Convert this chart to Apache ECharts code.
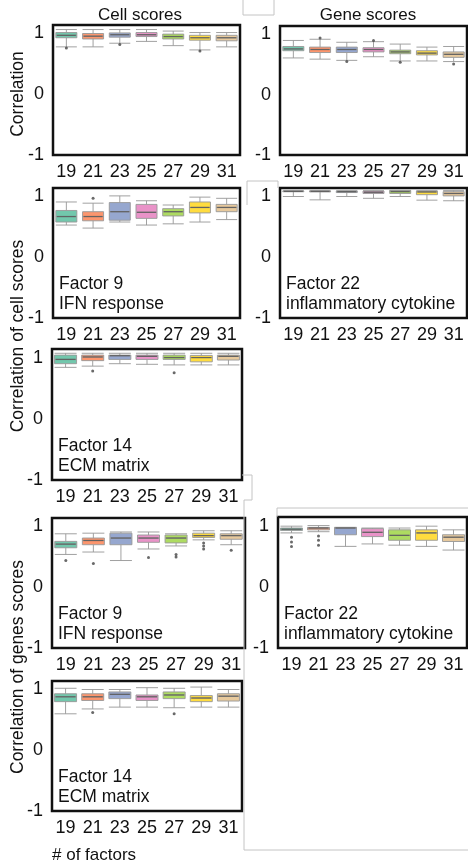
<!DOCTYPE html>
<html><head><meta charset="utf-8">
<script src="https://cdn.jsdelivr.net/npm/echarts@6/dist/echarts.min.js"></script>
<style>html,body{margin:0;padding:0;background:#fff}#c{width:468px;height:865px}</style>
</head><body><div id="c"></div>
<script>
const factors = ['19','21','23','25','27','29','31'];
const yTicks = [-1, 0, 1];
const palette = ['#66c2a5','#fc8d62','#8da0cb','#e78ac3','#a6d854','#ffd92f','#e5c494'];

// [whisker low, Q1, median, Q3, whisker high]
const cellAll = [
 [0.78,0.93,0.97,1.016,1.065],
 [0.78,0.91,0.956,1.0,1.065],
 [0.84,0.94,0.98,1.01,1.065],
 [0.87,0.95,0.98,1.016,1.065],
 [0.80,0.91,0.95,0.99,1.04],
 [0.73,0.89,0.93,0.97,1.016],
 [0.78,0.88,0.93,0.97,1.016]
];
const cellAllOut = [[0,0.76],[2,0.82],[5,0.71]];

const geneAll = [
 [0.61,0.73,0.76,0.80,0.90],
 [0.59,0.70,0.75,0.79,0.92],
 [0.57,0.70,0.75,0.79,0.87],
 [0.63,0.71,0.75,0.78,0.88],
 [0.56,0.68,0.71,0.74,0.84],
 [0.56,0.66,0.69,0.73,0.79],
 [0.55,0.62,0.67,0.71,0.80]
];
const geneAllOut = [[1,0.94],[2,0.55],[3,0.90],[4,0.54],[6,0.51]];

const cellF9 = [
 [0.53,0.58,0.67,0.77,0.91],
 [0.48,0.60,0.67,0.75,0.89],
 [0.58,0.61,0.75,0.90,1.01],
 [0.53,0.64,0.74,0.87,0.93],
 [0.55,0.68,0.75,0.80,0.86],
 [0.58,0.73,0.82,0.91,0.99],
 [0.62,0.75,0.82,0.87,0.97]
];
const cellF9Out = [[1,0.97]];

const cellF22 = [
 [1.00,1.078,1.085,1.09,1.095],
 [0.945,1.075,1.085,1.09,1.095],
 [1.00,1.065,1.08,1.09,1.095],
 [0.97,1.05,1.07,1.09,1.095],
 [1.00,1.05,1.08,1.10,1.10],
 [0.94,1.03,1.075,1.09,1.095],
 [0.93,1.01,1.05,1.08,1.10]
];
const cellF22Out = [];

const cellF14 = [
 [0.84,0.90,0.97,1.04,1.07],
 [0.86,0.95,1.01,1.04,1.07],
 [0.90,0.97,1.03,1.04,1.07],
 [0.89,0.97,1.02,1.04,1.07],
 [0.88,0.97,1.00,1.04,1.07],
 [0.88,0.93,1.00,1.035,1.07],
 [0.88,0.96,1.02,1.04,1.07]
];
const cellF14Out = [[1,0.78],[4,0.75]];

const geneF9 = [
 [0.54,0.65,0.71,0.755,0.88],
 [0.58,0.70,0.77,0.81,0.89],
 [0.44,0.70,0.81,0.89,0.91],
 [0.63,0.74,0.81,0.86,0.91],
 [0.68,0.73,0.81,0.86,0.88],
 [0.78,0.82,0.85,0.89,0.93],
 [0.70,0.79,0.85,0.88,0.93]
];
const geneF9Out = [[0,0.44],[1,0.39],[3,0.49],[4,0.54],[4,0.50],[5,0.73],[5,0.68],[5,0.63],[6,0.61]];

const geneF22 = [
 [0.88,0.92,0.94,0.96,0.99],
 [0.90,0.93,0.96,0.97,1.0],
 [0.66,0.85,0.96,0.97,0.97],
 [0.70,0.82,0.89,0.95,0.96],
 [0.68,0.76,0.84,0.93,0.96],
 [0.66,0.76,0.88,0.93,0.99],
 [0.60,0.74,0.81,0.85,0.93]
];
const geneF22Out = [[0,0.81],[0,0.73],[0,0.66],[1,0.83],[1,0.76],[1,0.68]];

const geneF14 = [
 [0.60,0.80,0.88,0.93,1.02],
 [0.68,0.82,0.88,0.93,1.0],
 [0.71,0.85,0.92,0.96,1.0],
 [0.71,0.82,0.88,0.91,1.03],
 [0.70,0.85,0.91,0.96,1.02],
 [0.71,0.80,0.86,0.90,1.04],
 [0.71,0.81,0.89,0.93,1.0]
];
const geneF14Out = [[1,0.62],[4,0.60]];

const FONT = 'Liberation Sans, Arial, sans-serif';

const panels = [
 {box: cellAll, out: cellAllOut, g:{left:53, top:25, width:187, height:130}},
 {box: geneAll, out: geneAllOut, g:{left:280, top:26, width:187, height:129}},
 {box: cellF9, out: cellF9Out, g:{left:53, top:188, width:187, height:130}, l1:'Factor 9', l2:'IFN response'},
 {box: cellF22, out: cellF22Out, g:{left:280, top:188, width:187, height:130}, l1:'Factor 22', l2:'inflammatory cytokine'},
 {box: cellF14, out: cellF14Out, g:{left:52, top:349, width:190, height:131}, l1:'Factor 14', l2:'ECM matrix'},
 {box: geneF9, out: geneF9Out, g:{left:52, top:518, width:193, height:130}, l1:'Factor 9', l2:'IFN response'},
 {box: geneF22, out: geneF22Out, g:{left:278, top:517, width:189, height:131}, l1:'Factor 22', l2:'inflammatory cytokine'},
 {box: geneF14, out: geneF14Out, g:{left:52, top:681, width:190, height:130}, l1:'Factor 14', l2:'ECM matrix'}
];

const grid = [], xAxis = [], yAxis = [], series = [], graphic = [];
panels.forEach((p, k) => {
  grid.push(Object.assign({show:true, borderColor:'#111', borderWidth:2.5, backgroundColor:'transparent'}, p.g));
  xAxis.push({type:'category', gridIndex:k, data:factors, axisLine:{show:false}, axisTick:{show:false},
    axisLabel:{fontSize:18, color:'#111', fontFamily:FONT, margin:8}, splitLine:{show:false}});
  yAxis.push({type:'value', gridIndex:k, min:-1, max:1.14, interval:1, axisLine:{show:false}, axisTick:{show:false},
    splitLine:{show:false},
    axisLabel:{fontSize:18, color:'#111', fontFamily:FONT, margin:9,
      formatter: v => yTicks.includes(Math.round(v*1000)/1000) ? String(v) : ''}});
  const bw = Math.round(p.g.width/7*0.8);
  series.push({type:'boxplot', xAxisIndex:k, yAxisIndex:k, boxWidth:[bw,bw],
    data: p.box.map((d,i)=>({value:d, itemStyle:{color:palette[i], opacity:0.92, borderColor:'#999', borderWidth:1}})),
    silent:true});
  series.push({type:'scatter', xAxisIndex:k, yAxisIndex:k, symbol:'rect', symbolSize:[bw-2,1.3],
    data: p.box.map((d,i)=>[i, d[2]]), itemStyle:{color:'#555'}, silent:true, z:5});
  if (p.out.length) series.push({type:'scatter', xAxisIndex:k, yAxisIndex:k, symbolSize:3,
    data: p.out, itemStyle:{color:'#444'}, silent:true, z:6});
  if (p.l1) {
    const x = p.g.left + 6, yb = p.g.top + p.g.height;
    graphic.push({type:'text', x:x, y:yb-34, style:{text:p.l1, fontSize:17.5, fill:'#111', fontFamily:FONT, verticalAlign:'middle'}});
    graphic.push({type:'text', x:x, y:yb-14, style:{text:p.l2, fontSize:17.5, fill:'#111', fontFamily:FONT, verticalAlign:'middle'}});
  }
});

function title(txt, cx, cy){ return {type:'text', x:cx, y:cy, style:{text:txt, fontSize:17, fill:'#111', fontFamily:FONT, align:'center', verticalAlign:'middle'}}; }
graphic.push(title('Cell scores', 140, 15));
graphic.push(title('Gene scores', 368, 15));
function vtitle(txt, cx, cy){ return {type:'text', x:cx, y:cy, rotation:Math.PI/2, style:{text:txt, fontSize:17.5, fill:'#111', fontFamily:FONT, align:'center', verticalAlign:'middle'}}; }
graphic.push(vtitle('Correlation', 18, 94));
graphic.push(vtitle('Correlation of cell scores', 18, 336));
graphic.push(vtitle('Correlation of genes scores', 18, 667));
graphic.push({type:'text', x:52, y:855, style:{text:'# of factors', fontSize:17, fill:'#111', fontFamily:FONT, verticalAlign:'middle'}});

// faint layout artifacts
const ls = {stroke:'#c4c4c4', lineWidth:1, fill:null};
graphic.push({type:'polyline', shape:{points:[[243,0],[243,15],[274,15],[274,0]]}, style:ls, silent:true});
graphic.push({type:'polyline', shape:{points:[[247,205],[247,181],[278,181],[278,188]]}, style:ls, silent:true});
graphic.push({type:'polyline', shape:{points:[[242,475],[252,475],[252,500],[244,500],[244,850],[468,850]]}, style:ls, silent:true});
graphic.push({type:'polyline', shape:{points:[[277,517],[277,508],[468,508]]}, style:ls, silent:true});

const chart = echarts.init(document.getElementById('c'), null, {renderer:'canvas'});
chart.setOption({animation:false, grid, xAxis, yAxis, series, graphic});
</script></body></html>
